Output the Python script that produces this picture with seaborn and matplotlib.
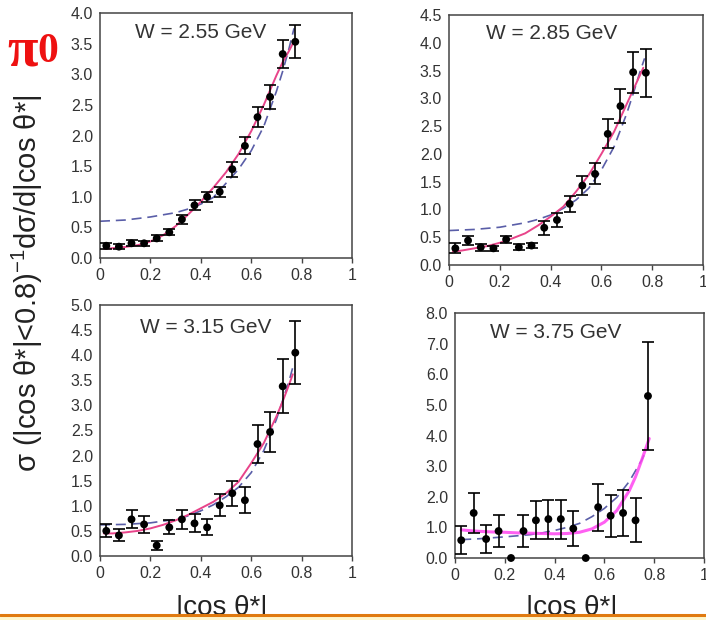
import numpy as np
import pandas as pd
import matplotlib
matplotlib.use("Agg")
import matplotlib.pyplot as plt
from matplotlib.patches import Rectangle
import seaborn as sns

# ---- data -------------------------------------------------------------
cos_bins = [0.025, 0.075, 0.125, 0.175, 0.225, 0.275, 0.325, 0.375,
            0.425, 0.475, 0.525, 0.575, 0.625, 0.675, 0.725, 0.775]

w_labels = ["W = 2.55 GeV", "W = 2.85 GeV", "W = 3.15 GeV", "W = 3.75 GeV"]

y_255 = [0.20, 0.185, 0.24, 0.24, 0.32, 0.42, 0.63, 0.86,
         1.00, 1.08, 1.45, 1.83, 2.30, 2.63, 3.33, 3.53]
e_255 = [0.05, 0.04, 0.05, 0.04, 0.05, 0.05, 0.07, 0.08,
         0.08, 0.08, 0.12, 0.14, 0.16, 0.19, 0.23, 0.27]

y_285 = [0.30, 0.44, 0.32, 0.30, 0.46, 0.32, 0.35, 0.67,
         0.81, 1.10, 1.43, 1.64, 2.36, 2.86, 3.47, 3.46]
e_285 = [0.09, 0.08, 0.06, 0.05, 0.07, 0.05, 0.05, 0.13,
         0.13, 0.15, 0.17, 0.19, 0.26, 0.31, 0.37, 0.43]

y_315 = [0.50, 0.41, 0.73, 0.63, 0.21, 0.57, 0.73, 0.65,
         0.57, 1.01, 1.25, 1.11, 2.23, 2.47, 3.38, 4.05]
e_315 = [0.13, 0.12, 0.18, 0.17, 0.09, 0.14, 0.19, 0.18,
         0.16, 0.22, 0.25, 0.26, 0.38, 0.40, 0.54, 0.63]

y_375 = [0.58, 1.47, 0.62, 0.88, 0.00, 0.88, 1.23, 1.27,
         1.27, 0.96, 0.00, 1.66, 1.38, 1.47, 1.23, 5.29]
e_375 = [0.45, 0.64, 0.46, 0.52, 0.00, 0.53, 0.62, 0.64,
         0.64, 0.57, 0.00, 0.77, 0.69, 0.74, 0.72, 1.75]

# fitted curve (solid) and model curve (dashed)
fit_x = [0.015, 0.05, 0.10, 0.15, 0.20, 0.25, 0.30, 0.35, 0.40,
         0.45, 0.50, 0.55, 0.60, 0.65, 0.70, 0.725, 0.75, 0.765]
fit_255 = [0.15, 0.16, 0.18, 0.21, 0.27, 0.37, 0.52, 0.71, 0.92,
           1.15, 1.40, 1.70, 2.07, 2.50, 2.98, 3.20, 3.38, 3.50]
fit_285 = [0.24, 0.26, 0.30, 0.34, 0.40, 0.48, 0.57, 0.71, 0.87,
           1.05, 1.32, 1.62, 2.00, 2.40, 2.90, 3.15, 3.40, 3.55]
fit_315 = [0.45, 0.45, 0.47, 0.50, 0.55, 0.62, 0.71, 0.82, 0.95,
           1.08, 1.25, 1.48, 1.85, 2.25, 2.78, 3.08, 3.41, 3.62]
fit_x_375 = [0.025, 0.05, 0.10, 0.15, 0.20, 0.25, 0.30, 0.35, 0.40,
             0.45, 0.50, 0.55, 0.60, 0.65, 0.70, 0.725, 0.75, 0.78]
fit_375 = [0.92, 0.90, 0.87, 0.85, 0.84, 0.82, 0.81, 0.80, 0.79,
           0.80, 0.84, 0.95, 1.17, 1.55, 2.20, 2.65, 3.20, 3.90]

model_x = [0.0, 0.10, 0.20, 0.30, 0.35, 0.40, 0.45, 0.50,
           0.55, 0.60, 0.65, 0.70, 0.725, 0.75, 0.77]
model_255 = [0.60, 0.62, 0.67, 0.74, 0.80, 0.88, 0.99, 1.22,
             1.45, 1.75, 2.15, 2.72, 3.05, 3.42, 3.75]
model_285 = [0.62, 0.64, 0.68, 0.76, 0.82, 0.90, 1.02, 1.17,
             1.38, 1.71, 2.13, 2.73, 3.08, 3.45, 3.72]
model_315 = [0.62, 0.63, 0.66, 0.73, 0.80, 0.90, 1.02, 1.18,
             1.37, 1.66, 2.10, 2.72, 3.10, 3.48, 3.85]
model_x_375 = [0.025, 0.10, 0.20, 0.30, 0.35, 0.40, 0.45, 0.50,
               0.55, 0.60, 0.65, 0.70, 0.725, 0.75, 0.775]
model_375 = [0.60, 0.63, 0.69, 0.76, 0.82, 0.90, 1.00, 1.13,
             1.35, 1.62, 1.98, 2.50, 2.85, 3.20, 3.65]

x_ticks = [0, 0.2, 0.4, 0.6, 0.8, 1.0]
x_ticklabels = ["0", "0.2", "0.4", "0.6", "0.8", "1"]

# ---- style ------------------------------------------------------------
sns.set_theme(style="ticks")
plt.rcParams["font.family"] = ["Liberation Sans", "DejaVu Sans"]
plt.rcParams["mathtext.fontset"] = "custom"
plt.rcParams["mathtext.rm"] = "Liberation Sans"
plt.rcParams["mathtext.it"] = "Liberation Sans"

TICK_COLOR = "#333333"
FIT_COLOR = "#e8448a"
FIT4_COLOR = "#ff44f0"
MODEL_COLOR = "#5a5ea8"

fig = plt.figure(figsize=(7.06, 6.20), dpi=100)

W, H = 706.0, 620.0
def place(left, top, right, bottom):
    return [left / W, 1 - bottom / H, (right - left) / W, (bottom - top) / H]

panels = [
    dict(rect=place(100, 13, 352, 258), y=y_255, e=e_255,
         fx=fit_x, fy=fit_255, mx=model_x, my=model_255,
         ylim=4.0, ystep=0.5, fc=FIT_COLOR, flw=1.4, tx=0.40, ty=0.92),
    dict(rect=place(449, 15, 703, 265), y=y_285, e=e_285,
         fx=fit_x, fy=fit_285, mx=model_x, my=model_285,
         ylim=4.5, ystep=0.5, fc=FIT_COLOR, flw=1.4, tx=0.405, ty=0.925),
    dict(rect=place(100, 305, 352, 556), y=y_315, e=e_315,
         fx=fit_x, fy=fit_315, mx=model_x, my=model_315,
         ylim=5.0, ystep=0.5, fc=FIT_COLOR, flw=1.4, tx=0.42, ty=0.91),
    dict(rect=place(455, 313, 704, 558), y=y_375, e=e_375,
         fx=fit_x_375, fy=fit_375, mx=model_x_375, my=model_375,
         ylim=8.0, ystep=1.0, fc=FIT4_COLOR, flw=2.2, tx=0.405, ty=0.92),
]

for i, p in enumerate(panels):
    ax = fig.add_axes(p["rect"])
    pts = pd.DataFrame({"x": cos_bins, "y": p["y"], "err": p["e"]})
    fit = pd.DataFrame({"x": p["fx"], "y": p["fy"]})
    mod = pd.DataFrame({"x": p["mx"], "y": p["my"]})

    sns.lineplot(data=mod, x="x", y="y", ax=ax, color=MODEL_COLOR,
                 linewidth=1.2, zorder=2)
    ax.lines[-1].set_dashes((6, 3.5))
    sns.lineplot(data=fit, x="x", y="y", ax=ax, color=p["fc"],
                 linewidth=p["flw"], zorder=3,
                 alpha=0.85 if i == 3 else 1.0)

    has_err = pts["err"] > 0
    ax.errorbar(pts.loc[has_err, "x"], pts.loc[has_err, "y"],
                yerr=pts.loc[has_err, "err"], fmt="none", ecolor="black",
                elinewidth=1.2, capsize=4, capthick=1.2, zorder=4)
    sns.scatterplot(data=pts, x="x", y="y", ax=ax, color="black", s=32,
                    edgecolor="none", zorder=5, clip_on=False)

    ax.set_xlim(0, 1)
    ax.set_ylim(0, p["ylim"])
    ax.set_xticks(x_ticks)
    ax.set_xticklabels(x_ticklabels)
    yt = np.arange(0, p["ylim"] + 1e-9, p["ystep"])
    ax.set_yticks(yt)
    ax.set_yticklabels([f"{v:.1f}" for v in yt])
    ax.tick_params(axis="both", labelsize=11.5, colors="#444444",
                   labelcolor=TICK_COLOR, length=3.5, width=1.0,
                   direction="out", pad=4)
    ax.tick_params(axis="y", length=0, pad=5)
    for s in ax.spines.values():
        s.set_visible(True)
        s.set_color("#444444")
        s.set_linewidth(1.1)
    ax.set_xlabel("")
    ax.set_ylabel("")
    ax.text(p["tx"], p["ty"], w_labels[i], transform=ax.transAxes,
            ha="center", va="center", fontsize=15, color="#333333")

# shared axis labels
fig.text(27 / W, 1 - 283 / H,
         r"σ (|cos θ*|<0.8)$^{-1}$dσ/d|cos θ*|",
         rotation=90, ha="center", va="center", fontsize=21,
         color="#222222")
fig.text(222 / W, 1 - 615 / H, "|cos θ*|", ha="center", va="baseline",
         fontsize=20, color="#222222")
fig.text(572 / W, 1 - 615 / H, "|cos θ*|", ha="center", va="baseline",
         fontsize=20, color="#222222")

# reaction label
fig.text(38 / W, 1 - 66 / H, "π", ha="right", va="baseline",
         fontsize=40, fontweight="bold", color="#ee1111",
         family=["Liberation Serif", "DejaVu Serif"])
fig.text(37 / W, 1 - 62 / H, "0", ha="left", va="baseline",
         fontsize=30, fontweight="bold", color="#ee1111",
         family=["Liberation Serif", "DejaVu Serif"])

# footer band drawn over the bottom of the axis labels
fig.add_artist(Rectangle((0, 0), 1, 5 / H, transform=fig.transFigure,
                         facecolor="#fff6cc", edgecolor="none", zorder=20))
fig.add_artist(plt.Line2D([0, 1], [5 / H, 5 / H], transform=fig.transFigure,
                          color="#e07a10", linewidth=2.2, zorder=21))

fig.savefig("out.png", dpi=100)
